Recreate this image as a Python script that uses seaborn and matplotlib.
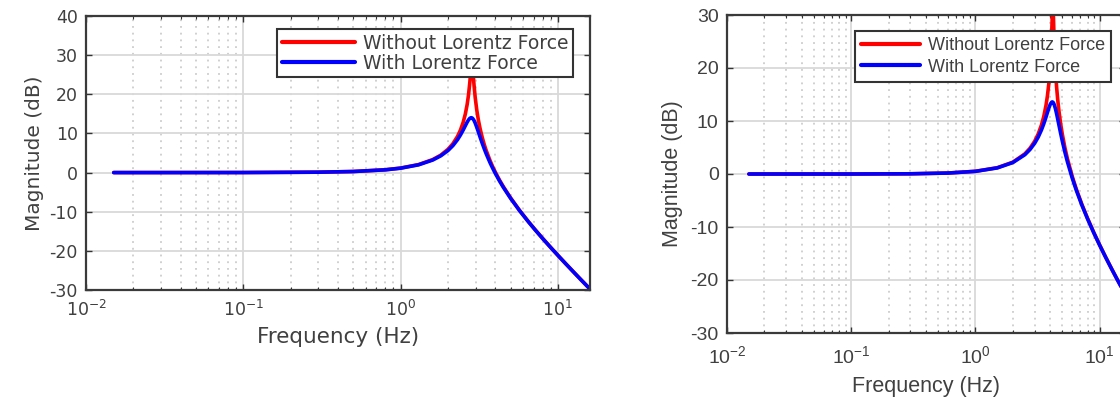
import numpy as np
import pandas as pd
import matplotlib
matplotlib.use("Agg")
import matplotlib.pyplot as plt
import seaborn as sns
from matplotlib.ticker import LogLocator, MultipleLocator, NullFormatter

# ---------------- data ----------------
left_freq = [0.015, 0.03, 0.1, 0.3, 0.5, 0.8, 1.0, 1.3, 1.6, 1.8, 2.0, 2.15, 2.3, 2.4, 2.5, 2.58,
             2.65, 2.7, 2.75, 2.8, 2.84, 2.88, 2.93, 2.98, 3.05, 3.12, 3.2, 3.3, 3.4, 3.5, 3.7,
             3.85, 4.0, 4.25, 4.5, 5.0, 5.7, 6.5, 7.2, 8.0, 9.0, 10.0, 11.2, 12.5, 14.0, 16.0]
left_without = [0.0, 0.0, 0.01, 0.10, 0.27, 0.72, 1.15, 2.04, 3.32, 4.45, 5.94, 7.37, 9.23, 10.82, 12.85, 14.97,
                17.42, 19.71, 22.68, 26.31, 27.96, 26.11, 22.33, 19.22, 15.96, 13.49, 11.27, 9.04, 7.21, 5.66, 3.11,
                1.52, 0.13, -1.88, -3.59, -6.45, -9.63, -12.55, -14.69, -16.82, -19.13, -21.14, -23.26, -25.28,
                -27.35, -29.75]
left_with = [0.0, 0.0, 0.01, 0.10, 0.27, 0.70, 1.12, 1.98, 3.20, 4.27, 5.62, 6.88, 8.40, 9.58, 10.88, 11.97,
             12.88, 13.43, 13.83, 14.02, 13.98, 13.77, 13.30, 12.66, 11.57, 10.41, 9.08, 7.53, 6.11, 4.82, 2.56,
             1.11, -0.20, -2.11, -3.77, -6.56, -9.70, -12.59, -14.73, -16.85, -19.14, -21.15, -23.27, -25.29,
             -27.36, -29.76]

right_freq = [0.015, 0.03, 0.1, 0.3, 0.6, 1.0, 1.5, 2.0, 2.5, 2.75, 3.0, 3.2, 3.4, 3.55, 3.7, 3.8, 3.9,
              4.0, 4.1, 4.15, 4.2, 4.25, 4.3, 4.4, 4.5, 4.6, 4.7, 4.85, 5.0, 5.25, 5.5, 6.0, 6.5, 7.2,
              8.0, 9.0, 10.0, 11.2, 12.5, 14.0, 16.0]
right_without = [0.0, 0.0, 0.0, 0.04, 0.18, 0.51, 1.19, 2.23, 3.80, 4.86, 6.19, 7.54, 9.24, 10.86, 12.96,
                 14.77, 17.10, 20.37, 25.59, 29.49, 32.40, 29.35, 25.34, 19.94, 16.47, 13.93, 11.92, 9.51,
                 7.57, 4.98, 2.91, -0.35, -2.90, -5.75, -8.39, -11.11, -13.38, -15.72, -17.91, -20.10, -22.61]
right_with = [0.0, 0.0, 0.0, 0.04, 0.18, 0.50, 1.15, 2.16, 3.64, 4.62, 5.81, 6.95, 8.31, 9.47, 10.74,
              11.61, 12.44, 13.13, 13.54, 13.60, 13.56, 13.40, 13.14, 12.37, 11.40, 10.33, 9.25, 7.70,
              6.26, 4.14, 2.32, -0.69, -3.12, -5.90, -8.49, -11.17, -13.43, -15.76, -17.93, -20.11, -22.63]

series_names = ["Without Lorentz Force", "With Lorentz Force"]
series_colors = ["#ff0000", "#0000ff"]
x_label = "Frequency (Hz)"
y_label = "Magnitude (dB)"

# ---------------- style ----------------
sns.set_style("white")
plt.rcParams["axes.unicode_minus"] = False
plt.rcParams["mathtext.default"] = "regular"
TXT = "#404040"

fig = plt.figure(figsize=(11.2, 4.0), dpi=100)
fig.patch.set_facecolor("white")

ax1 = fig.add_axes([86 / 1120, 1 - 290 / 400, (590 - 86) / 1120, (290 - 16) / 400])
ax2 = fig.add_axes([727 / 1120, 1 - 333 / 400, (1125 - 727) / 1120, (333 - 15) / 400])


def make_df(freq, a, b):
    return pd.DataFrame({
        "freq": list(freq) * 2,
        "mag": list(a) + list(b),
        "series": [series_names[0]] * len(freq) + [series_names[1]] * len(freq),
    })


def style_axes(ax, df, ylim, family, tick_fs, xlabel_fs, ylabel_fs, leg_fs, handlelen, anchor,
               labelspacing, borderpad, xpad, ypad, xlabelpad, ylabelpad):
    sns.lineplot(data=df, x="freq", y="mag", hue="series", palette=series_colors,
                 hue_order=series_names, estimator=None, sort=False, lw=2.6, ax=ax,
                 solid_capstyle="round", solid_joinstyle="round")
    ax.set_xscale("log")
    ax.set_xlim(0.01, 16)
    ax.set_ylim(*ylim)
    ax.yaxis.set_major_locator(MultipleLocator(10))
    ax.xaxis.set_major_locator(LogLocator(base=10, numticks=10))
    ax.xaxis.set_minor_locator(LogLocator(base=10, subs=np.arange(2, 10), numticks=20))
    ax.xaxis.set_minor_formatter(NullFormatter())
    ax.set_axisbelow(True)
    ax.grid(True, which="major", axis="both", color="#d9d9d9", lw=1.3, ls="-")
    ax.grid(True, which="minor", axis="x", color="#c4c4c4", lw=1.1, ls=(0, (1.2, 3.2)))
    for s in ax.spines.values():
        s.set_color("#3a3a3a")
        s.set_linewidth(1.6)
    ax.tick_params(which="both", direction="in", top=True, right=True, bottom=True, left=True,
                   colors="#333333", labelcolor=TXT)
    ax.tick_params(which="major", length=4, width=1.0, labelsize=tick_fs)
    ax.tick_params(axis="x", which="major", pad=xpad)
    ax.tick_params(axis="y", which="major", pad=ypad)
    ax.tick_params(which="minor", length=2, width=0.8)
    for lab in ax.get_xticklabels() + ax.get_yticklabels():
        lab.set_family(family)
    ax.set_xlabel(x_label, fontsize=xlabel_fs, color=TXT, family=family, labelpad=xlabelpad)
    ax.set_ylabel(y_label, fontsize=ylabel_fs, color=TXT, family=family, labelpad=ylabelpad)
    leg = ax.legend(loc="upper right", bbox_to_anchor=anchor, borderaxespad=0,
                    frameon=True, fancybox=False, framealpha=1, edgecolor="#333333",
                    prop={"family": family, "size": leg_fs}, handlelength=handlelen,
                    handletextpad=0.4, borderpad=borderpad, labelspacing=labelspacing)
    leg.get_frame().set_linewidth(1.5)
    for t in leg.get_texts():
        t.set_color(TXT)
    for h in leg.get_lines():
        h.set_linewidth(3.0)


style_axes(ax1, make_df(left_freq, left_without, left_with), (-30, 40),
           "DejaVu Sans", 12.5, 15.5, 14.5, 13.5, 3.9, (0.966, 0.953), 0.05, 0.25,
           xpad=7, ypad=6, xlabelpad=5, ylabelpad=4)
style_axes(ax2, make_df(right_freq, right_without, right_with), (-30, 30),
           "Liberation Sans", 14, 15.5, 15.5, 13, 3.3, (0.965, 0.95), 0.25, 0.35,
           xpad=9, ypad=6, xlabelpad=6, ylabelpad=5)

fig.savefig("out.png", dpi=100, facecolor="white")
